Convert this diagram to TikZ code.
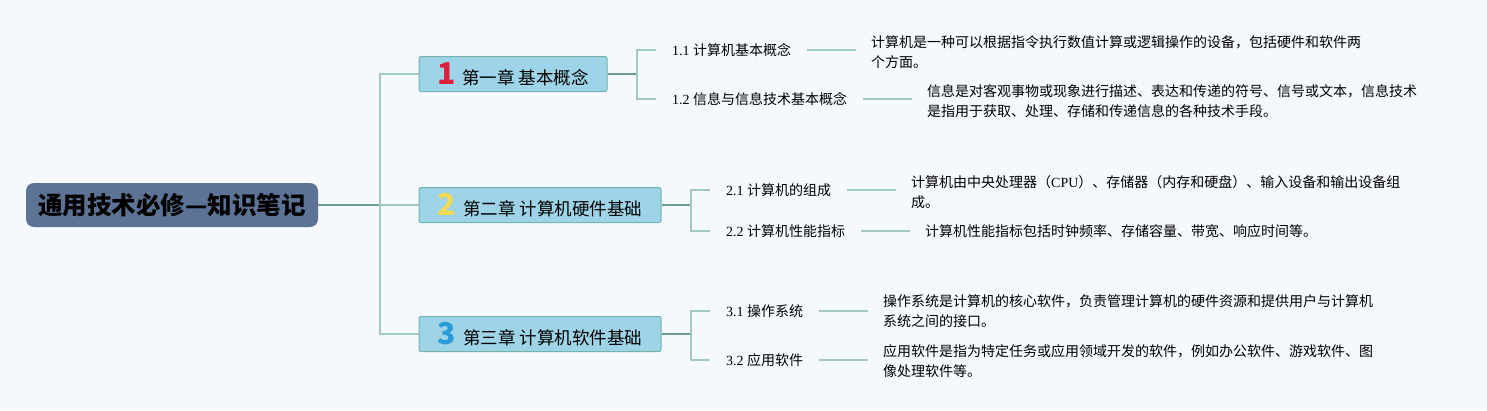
\documentclass[tikz,border=0pt]{standalone}
\usepackage{fontspec}
\setmainfont{Liberation Serif}
\newfontfamily\cjk{Noto Sans CJK SC}
\usetikzlibrary{positioning,calc}
\usepackage{xcolor}

\definecolor{bgblue}{HTML}{F5F9FE}
\definecolor{rootblue}{HTML}{5C7396}
\definecolor{chapblue}{HTML}{9DD4E7}
\definecolor{chapline}{HTML}{74B2AE}
\definecolor{trunkgreen}{HTML}{6C9E8E}
\definecolor{branchgreen}{HTML}{A3C7C1}
\definecolor{numred}{HTML}{E01E3C}
\definecolor{numyellow}{HTML}{F2DA55}
\definecolor{numblue}{HTML}{2A9AD8}

\newcommand{\chnum}[2]{{\cjk\bfseries\fontsize{30}{30}\selectfont\color{#1}#2}}

\begin{document}
\begin{tikzpicture}[
  x=1pt, y=-1pt,
  root/.style={rectangle, rounded corners=8pt, fill=rootblue, minimum width=292pt, minimum height=44pt, inner sep=0pt, font=\cjk\bfseries\fontsize{24.5}{28}\selectfont},
  chap/.style={rectangle, rounded corners=2pt, draw=chapline, line width=1pt, fill=chapblue, minimum height=35pt, inner sep=0pt, font=\fontsize{17.5}{20}\selectfont},
  sub/.style={anchor=west, inner sep=0pt, font=\fontsize{14}{20}\selectfont},
  desc/.style={anchor=west, inner sep=0pt, align=left, font=\cjk\fontsize{14}{20}\selectfont},
  trunk/.style={draw=trunkgreen, line width=1.2pt},
  branch/.style={draw=branchgreen, line width=1.2pt},
  link/.style={draw=branchgreen, line width=1.2pt, shorten <=16pt, shorten >=15pt}
]
\useasboundingbox (0,0) rectangle (1487,410);
\fill[bgblue] (0,0) rectangle (1487,410);

% root and chapters
\node[root] (root) at (172,205) {通用技术必修—知识笔记};
\node[chap, minimum width=188pt] (c1) at (513,74) {\chnum{numred}{1}\hspace{7pt}{\cjk 第一章 基本概念}};
\node[chap, minimum width=242pt] (c2) at (540,205) {\chnum{numyellow}{2}\hspace{7pt}{\cjk 第二章 计算机硬件基础}};
\node[chap, minimum width=242pt] (c3) at (540,334) {\chnum{numblue}{3}\hspace{7pt}{\cjk 第三章 计算机软件基础}};

\coordinate (j0) at (380,205);
\draw[trunk] (root.east) -- (j0);
\draw[branch] (j0) |- (c1.west);
\draw[branch] (j0) -- (c2.west);
\draw[branch] (j0) |- (c3.west);

% chapter 1
\node[sub] (s11) at (672,50) {1.1 {\cjk 计算机基本概念}};
\node[sub] (s12) at (672,99) {1.2 {\cjk 信息与信息技术基本概念}};
\node[desc] (d11) at (871,52) {计算机是一种可以根据指令执行数值计算或逻辑操作的设备，包括硬件和软件两\\个方面。};
\node[desc] (d12) at (927,101) {信息是对客观事物或现象进行描述、表达和传递的符号、信号或文本，信息技术\\是指用于获取、处理、存储和传递信息的各种技术手段。};
\coordinate (j1) at (637,74);
\draw[trunk] (c1.east) -- (j1);
\draw[branch, shorten >=16pt] (j1) |- (s11.west);
\draw[branch, shorten >=16pt] (j1) |- (s12.west);
\draw[link] (s11.east) -- (s11.east -| d11.west);
\draw[link] (s12.east) -- (s12.east -| d12.west);

% chapter 2
\node[sub] (s21) at (726,190) {2.1 {\cjk 计算机的组成}};
\node[sub] (s22) at (726,231) {2.2 {\cjk 计算机性能指标}};
\node[desc] (d21) at (911,192) {计算机由中央处理器（{\rmfamily CPU}）、存储器（内存和硬盘）、输入设备和输出设备组\\成。};
\node[desc] (d22) at (925,231) {计算机性能指标包括时钟频率、存储容量、带宽、响应时间等。};
\coordinate (j2) at (691,205);
\draw[trunk] (c2.east) -- (j2);
\draw[branch, shorten >=16pt] (j2) |- (s21.west);
\draw[branch, shorten >=16pt] (j2) |- (s22.west);
\draw[link] (s21.east) -- (s21.east -| d21.west);
\draw[link] (s22.east) -- (s22.east -| d22.west);

% chapter 3
\node[sub] (s31) at (726,311) {3.1 {\cjk 操作系统}};
\node[sub] (s32) at (726,360) {3.2 {\cjk 应用软件}};
\node[desc] (d31) at (883,311) {操作系统是计算机的核心软件，负责管理计算机的硬件资源和提供用户与计算机\\系统之间的接口。};
\node[desc] (d32) at (883,361) {应用软件是指为特定任务或应用领域开发的软件，例如办公软件、游戏软件、图\\像处理软件等。};
\coordinate (j3) at (691,334);
\draw[trunk] (c3.east) -- (j3);
\draw[branch, shorten >=16pt] (j3) |- (s31.west);
\draw[branch, shorten >=16pt] (j3) |- (s32.west);
\draw[link] (s31.east) -- (s31.east -| d31.west);
\draw[link] (s32.east) -- (s32.east -| d32.west);
\end{tikzpicture}
\end{document}
